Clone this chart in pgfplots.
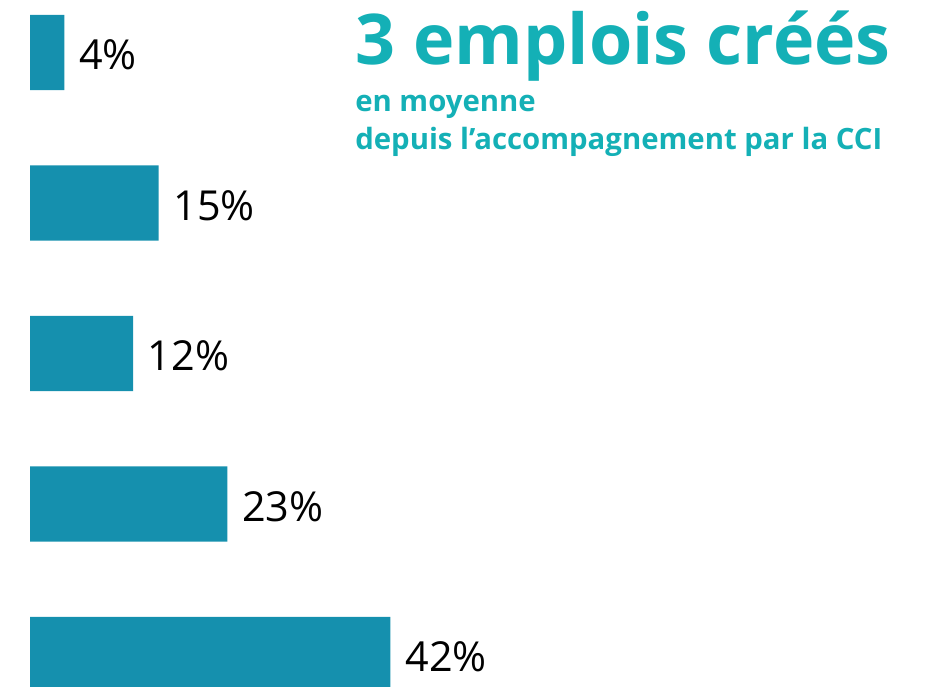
\documentclass[border=0pt]{standalone}
\usepackage{fontspec}
\setmainfont{Open Sans}
\usepackage{pgfplots}
\pgfplotsset{compat=1.18}
\definecolor{barcol}{HTML}{1590AE}
\definecolor{titlecol}{HTML}{14B0B6}
\begin{document}
\begin{tikzpicture}
\begin{axis}[
  scale only axis,
  width=693.75pt, height=515.25pt,
  hide axis,
  xbar, bar width=0.5,
  y dir=reverse,
  xmin=-3.5, xmax=104.3,
  ymin=-0.349, ymax=4.216,
  clip=true,
  nodes near coords={\pgfmathprintnumber[assume math mode=true]{\pgfplotspointmeta}\%},
  every node near coord/.append style={font=\fontsize{31}{34}\selectfont, text=black, anchor=west, inner sep=0pt, xshift=11pt, yshift=-2pt},
]
\addplot[fill=barcol, draw=none] coordinates {
  (4,0) (15,1) (12,2) (23,3) (42,4)
};
\node[anchor=base west, inner sep=0pt, text=titlecol, font=\fontsize{52.5}{60}\selectfont\bfseries] at (rel axis cs:0.3838,0.9054) {3 emplois créés};
\node[anchor=base west, inner sep=0pt, text=titlecol, font=\fontsize{22}{28}\selectfont\bfseries] at (rel axis cs:0.3838,0.8370) {en moyenne};
\node[anchor=base west, inner sep=0pt, text=titlecol, font=\fontsize{22}{28}\selectfont\bfseries] at (rel axis cs:0.3838,0.7817) {depuis l’accompagnement par la CCI};
\end{axis}
\pgfresetboundingbox
\path[use as bounding box] (current axis.south west) rectangle (current axis.north east);
\end{tikzpicture}
\end{document}
